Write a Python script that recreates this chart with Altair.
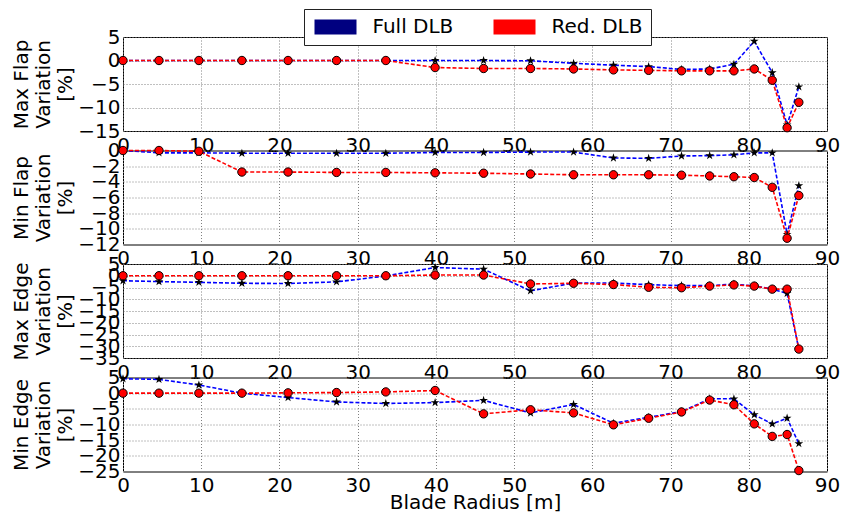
import altair as alt
import pandas as pd

radius = [0, 4.6, 9.7, 15.2, 21.1, 27.3, 33.6, 39.9, 46.1, 52.1, 57.6, 62.7,
          67.2, 71.4, 75.0, 78.1, 80.7, 83.0, 84.9, 86.4]

max_flap_full = [0, 0, 0, 0, 0, 0, 0, 0, 0, -0.05, -0.6, -1.0, -1.3, -1.9, -1.8, -0.8, 4.1, -2.6, -13.7, -5.6]
max_flap_red = [0, 0, 0, 0, 0, 0, 0, -1.5, -1.7, -1.7, -1.8, -2.0, -2.1, -2.2, -2.2, -2.2, -1.8, -4.2, -14.3, -8.9]

min_flap_full = [0, -0.3, -0.3, -0.35, -0.35, -0.35, -0.35, -0.25, -0.25, -0.2, -0.2, -0.95, -1.0, -0.7, -0.65, -0.55, -0.3, -0.3, -10.7, -4.5]
min_flap_red = [0, 0, -0.1, -2.75, -2.75, -2.8, -2.8, -2.85, -2.9, -3.0, -3.1, -3.1, -3.1, -3.15, -3.25, -3.35, -3.45, -4.7, -11.2, -5.75]

max_edge_full = [-2.1, -2.5, -2.8, -3.2, -3.3, -2.6, -0.1, 3.5, 2.8, -6.4, -3.1, -3.1, -3.8, -4.2, -4.2, -3.6, -4.3, -5.7, -7.5, -31.2]
max_edge_red = [0, 0, 0, 0, 0, 0, 0, 0.3, 0.3, -3.5, -3.2, -3.75, -4.9, -5.1, -4.4, -3.9, -4.4, -5.7, -5.7, -31.2]

min_edge_full = [4.6, 4.4, 2.6, 0, -1.4, -2.8, -3.3, -3.0, -2.3, -6.3, -3.6, -9.6, -7.7, -5.9, -1.8, -1.8, -6.9, -9.8, -8.0, -16.1]
min_edge_red = [0, 0, 0, 0, 0.1, 0.2, 0.4, 0.85, -6.6, -5.3, -6.3, -10.1, -8.0, -6.0, -2.2, -3.7, -9.8, -13.8, -13.2, -24.7]

x_ticks = list(range(0, 91, 10))
series_names = ["Full DLB", "Red. DLB"]

panels = [
    (["Max Flap", "Variation", "[%]"], [-15, 5], list(range(-15, 6, 5)), max_flap_full, max_flap_red),
    (["Min Flap", "Variation", "[%]"], [-12, 0], list(range(-12, 1, 2)), min_flap_full, min_flap_red),
    (["Max Edge", "Variation", "[%]"], [-35, 5], list(range(-35, 6, 5)), max_edge_full, max_edge_red),
    (["Min Edge", "Variation", "[%]"], [-25, 5], list(range(-25, 6, 5)), min_edge_full, min_edge_red),
]

STAR = ("M0,-1L0.223,-0.307L0.951,-0.309L0.361,0.117L0.588,0.809L0,0.38"
        "L-0.588,0.809L-0.361,0.117L-0.951,-0.309L-0.223,-0.307Z")
RECT = "M-2.8,-1H2.8V1H-2.8Z"

charts = []
for i, (title, dom, yt, full, red) in enumerate(panels):
    df = pd.DataFrame({
        "r": radius * 2,
        "v": full + red,
        "series": [series_names[0]] * len(radius) + [series_names[1]] * len(radius),
    })
    last = i == len(panels) - 1
    x = alt.X("r:Q", scale=alt.Scale(domain=[0, 90], nice=False),
              axis=alt.Axis(values=x_ticks, title="Blade Radius [m]" if last else None,
                            labelFlush=False, labelPadding=4, titlePadding=-3))
    y = alt.Y("v:Q", scale=alt.Scale(domain=dom, nice=False, zero=False),
              axis=alt.Axis(values=yt, title=title, labelOverlap=False, labelFlush=False,
                            titlePadding=2))
    base = alt.Chart(df)
    full_f = alt.datum.series == series_names[0]
    red_f = alt.datum.series == series_names[1]
    layers = [
        base.transform_filter(full_f).mark_line(color="#0000ff", strokeDash=[4, 2], strokeWidth=1.6).encode(x=x, y=y),
        base.transform_filter(full_f).mark_point(shape=STAR, filled=True, color="black", size=85, opacity=1).encode(x=x, y=y),
        base.transform_filter(red_f).mark_line(color="#ff0000", strokeDash=[4, 2], strokeWidth=1.6).encode(x=x, y=y),
        base.transform_filter(red_f).mark_point(shape="circle", filled=True, fill="#ff0000", stroke="black",
                                                strokeWidth=1, size=70, opacity=1).encode(x=x, y=y),
    ]
    if i == 0:
        legend_layer = base.mark_square(opacity=0).encode(
            x=x, y=y,
            color=alt.Color("series:N",
                            scale=alt.Scale(domain=series_names, range=["#000080", "#ff0000"]),
                            legend=alt.Legend(title=None, orient="none", legendX=181, legendY=-28,
                                              direction="horizontal", columns=2,
                                              symbolType=RECT, symbolSize=225, symbolOpacity=1,
                                              symbolStrokeWidth=0, symbolOffset=13.5,
                                              labelOffset=27, columnPadding=37, padding=8,
                                              labelFontSize=20, labelFont="DejaVu Sans",
                                              labelColor="black", fillColor="white",
                                              strokeColor="#222222", cornerRadius=0)))
        layers.append(legend_layer)
    charts.append(alt.layer(*layers).properties(width=704, height=94))

chart = alt.VConcatChart(vconcat=charts, spacing=19.5, bounds="flush").properties(
    padding={"left": 3, "top": 0, "right": 0, "bottom": 0}
).configure_view(stroke="black", strokeWidth=1).configure_axis(
    labelFont="DejaVu Sans", labelFontSize=20, labelColor="black",
    titleFont="DejaVu Sans", titleFontSize=20, titleFontWeight="normal", titleColor="black",
    titleLineHeight=22,
    grid=True, gridColor="#808080", gridDash=[1, 2], gridWidth=1,
    domain=False, ticks=False, labelPadding=3,
)

chart.save("out.html", embed_options={"renderer": "svg", "actions": False})
